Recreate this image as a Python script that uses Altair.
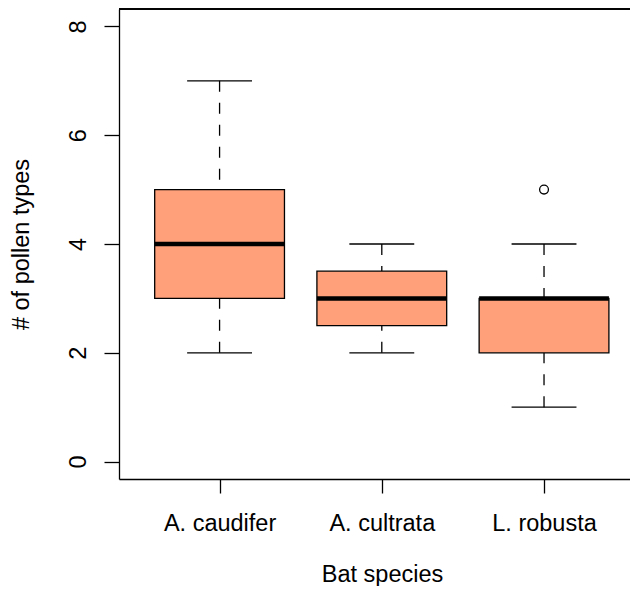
import altair as alt
import pandas as pd

# Box statistics
species = ["A. caudifer", "A. cultrata", "L. robusta"]
lower = [2, 2, 1]
q1 = [3, 2.5, 2]
median = [4, 3, 3]
q3 = [5, 3.5, 3]
upper = [7, 4, 4]
outlier_species = ["L. robusta"]
outlier_values = [5]
y_ticks = [0, 2, 4, 6, 8]

FILL = "#FFA07A"
FONT = "Liberation Sans"
FS = 23.5
LW = 1.3

df = pd.DataFrame({
    "species": species,
    "pos": [i + 1 for i in range(len(species))],
    "lower": lower, "q1": q1, "median": median, "q3": q3, "upper": upper,
})
out = pd.DataFrame({
    "species": outlier_species,
    "pos": [species.index(s) + 1 for s in outlier_species],
    "value": outlier_values,
})

label_expr = "[" + ",".join("'" + s + "'" for s in species) + "][datum.value - 1]"

xscale = alt.Scale(domain=[0.38, 3.53], nice=False, zero=False)
yscale = alt.Scale(domain=[-0.32, 8.32], nice=False, zero=False)

xaxis = alt.Axis(values=[1, 2, 3], labelExpr=label_expr, title="Bat species",
                 grid=False, tickSize=14, labelPadding=37, labelBaseline="alphabetic",
                 titleX=263, titleY=102, titleBaseline="alphabetic", titleAlign="center")
yaxis = alt.Axis(values=y_ticks, title="# of pollen types", grid=False,
                 tickSize=15, labelPadding=19, labelAngle=270, labelAlign="center",
                 labelBaseline="alphabetic", titleAngle=270, titleX=-91, titleY=235,
                 titleAlign="center", titleBaseline="alphabetic")

base = alt.Chart(df).transform_calculate(
    xl="datum.pos - 0.4", xr="datum.pos + 0.4",
    sl="datum.pos - 0.2", sr="datum.pos + 0.2",
)

dash = [11, 11]
wh_lo = base.mark_rule(color="black", strokeWidth=LW, strokeDash=dash).encode(
    x=alt.X("pos:Q", scale=xscale, axis=xaxis),
    y=alt.Y("lower:Q", scale=yscale, axis=yaxis),
    y2="q1:Q",
)
wh_hi = base.mark_rule(color="black", strokeWidth=LW, strokeDash=dash).encode(
    x=alt.X("pos:Q", scale=xscale), y=alt.Y("upper:Q", scale=yscale), y2="q3:Q",
)
box = base.mark_rect(fill=FILL, stroke="black", strokeWidth=LW).encode(
    x=alt.X("xl:Q", scale=xscale), x2="xr:Q",
    y=alt.Y("q1:Q", scale=yscale), y2="q3:Q",
)
med = base.mark_rule(color="black", strokeWidth=4.5).encode(
    x=alt.X("xl:Q", scale=xscale), x2="xr:Q", y=alt.Y("median:Q", scale=yscale),
)
st_lo = base.mark_rule(color="black", strokeWidth=LW).encode(
    x=alt.X("sl:Q", scale=xscale), x2="sr:Q", y=alt.Y("lower:Q", scale=yscale),
)
st_hi = base.mark_rule(color="black", strokeWidth=LW).encode(
    x=alt.X("sl:Q", scale=xscale), x2="sr:Q", y=alt.Y("upper:Q", scale=yscale),
)
pts = alt.Chart(out).mark_point(shape="circle", filled=False, color="black",
                                strokeWidth=LW, size=78, opacity=1).encode(
    x=alt.X("pos:Q", scale=xscale), y=alt.Y("value:Q", scale=yscale),
)
top = alt.Chart(df).mark_rule(color="black", strokeWidth=LW).encode(
    y=alt.datum(8.32, scale=yscale),
)

chart = alt.layer(wh_lo, wh_hi, box, med, st_lo, st_hi, pts, top).properties(
    width=511, height=470,
    autosize=alt.AutoSizeParams(type="none"),
    padding={"left": 111, "top": 1, "right": 0, "bottom": 107},
).configure_view(stroke=None).configure_axis(
    domainColor="black", domainWidth=LW, tickColor="black", tickWidth=LW,
    labelColor="black", titleColor="black", labelFont=FONT, titleFont=FONT,
    labelFontSize=FS, titleFontSize=FS, titleFontWeight="normal",
)

chart.save("out.html", embed_options={"renderer": "svg", "actions": False})
